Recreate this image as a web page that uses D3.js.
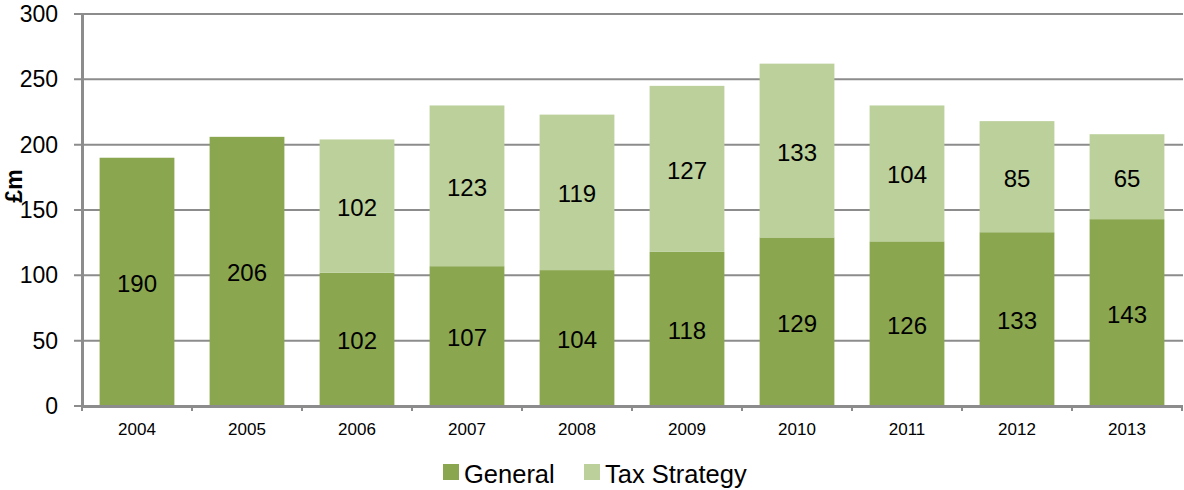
<!DOCTYPE html>
<html>
<head>
<meta charset="utf-8">
<script src="https://cdn.jsdelivr.net/npm/d3@7/dist/d3.min.js"></script>
<style>
  body { margin: 0; background: #fff; }
  svg text { font-family: "Liberation Sans", Arial, sans-serif; fill: #000; }
</style>
</head>
<body>
<svg id="chart" width="1184" height="490"></svg>
<script>
// data
var years = ["2004", "2005", "2006", "2007", "2008", "2009", "2010", "2011", "2012", "2013"];
var general = [190, 206, 102, 107, 104, 118, 129, 126, 133, 143];
var taxStrategy = [0, 0, 102, 123, 119, 127, 133, 104, 85, 65];
var seriesNames = ["General", "Tax Strategy"];
var yTicks = [0, 50, 100, 150, 200, 250, 300];

var colors = { "General": "#8aa64f", "Tax Strategy": "#bbd09a" };
var gridColor = "#8c8c8c";

var margin = { left: 82, right: 2, top: 14, bottom: 84 };
var width = 1184, height = 490;

var svg = d3.select("#chart");

var x = d3.scaleBand()
    .domain(years)
    .range([margin.left, width - margin.right])
    .paddingInner(0.32)
    .paddingOuter(0.16);

var y = d3.scaleLinear()
    .domain([0, 300])
    .range([height - margin.bottom, margin.top]);

// gridlines
svg.append("g")
    .selectAll("line")
    .data(yTicks)
    .enter()
    .append("line")
    .attr("x1", margin.left - 8)
    .attr("x2", width - 1)
    .attr("y1", function(d) { return y(d); })
    .attr("y2", function(d) { return y(d); })
    .style("stroke", gridColor)
    .style("stroke-width", 2);

// stacked rows
var rows = years.map(function(yr, i) {
    return { year: yr, "General": general[i], "Tax Strategy": taxStrategy[i] };
});
var stacked = d3.stack().keys(seriesNames)(rows);

var layers = svg.append("g")
    .selectAll("g")
    .data(stacked)
    .enter()
    .append("g")
    .style("fill", function(d) { return colors[d.key]; });

layers.selectAll("rect")
    .data(function(d) { return d.filter(function(p) { return p[1] - p[0] > 0; }); })
    .enter()
    .append("rect")
    .attr("x", function(d) { return x(d.data.year); })
    .attr("width", x.bandwidth())
    .attr("y", function(d) { return y(d[1]); })
    .attr("height", function(d) { return y(d[0]) - y(d[1]); });

layers.selectAll("text")
    .data(function(d) { return d.filter(function(p) { return p[1] - p[0] > 0; }); })
    .enter()
    .append("text")
    .attr("x", function(d) { return x(d.data.year) + x.bandwidth() / 2; })
    .attr("y", function(d) { return (y(d[0]) + y(d[1])) / 2; })
    .attr("dy", "0.42em")
    .attr("text-anchor", "middle")
    .style("font-size", "24px")
    .style("fill", "#000")
    .text(function(d) { return d[1] - d[0]; });

// y axis
var yAxis = svg.append("g")
    .attr("transform", "translate(" + margin.left + ",0)")
    .call(d3.axisLeft(y).tickValues(yTicks).tickSize(0).tickPadding(24));
yAxis.select(".domain").style("stroke", gridColor).style("stroke-width", 3);
yAxis.selectAll("text").style("font-size", "23px");

// x axis
var xAxis = svg.append("g")
    .attr("transform", "translate(0," + y(0) + ")")
    .call(d3.axisBottom(x).tickSize(0).tickPadding(17));
xAxis.select(".domain").style("stroke", gridColor).style("stroke-width", 3);
xAxis.selectAll("text").style("font-size", "17px");

// little ticks between categories
var step = x.step();
var tickXs = d3.range(years.length + 1).map(function(i) { return margin.left + i * step; });
xAxis.selectAll(".sep")
    .data(tickXs)
    .enter()
    .append("line")
    .attr("class", "sep")
    .attr("x1", function(d) { return d; })
    .attr("x2", function(d) { return d; })
    .attr("y1", 0)
    .attr("y2", 5)
    .style("stroke", gridColor)
    .style("stroke-width", 2);

// y label
svg.append("text")
    .attr("transform", "translate(22,186) rotate(-90)")
    .attr("text-anchor", "middle")
    .style("font-size", "23px")
    .style("font-weight", "bold")
    .text("£m");

// legend
var legendX = [443, 584];
var legend = svg.append("g")
    .selectAll("g")
    .data(seriesNames)
    .enter()
    .append("g")
    .attr("transform", function(d, i) { return "translate(" + legendX[i] + ",464)"; });
legend.append("rect")
    .attr("width", 16)
    .attr("height", 16)
    .style("fill", function(d) { return colors[d]; });
legend.append("text")
    .attr("x", 21)
    .attr("y", 19)
    .style("font-size", "25.5px")
    .text(function(d) { return d; });
</script>
</body>
</html>
